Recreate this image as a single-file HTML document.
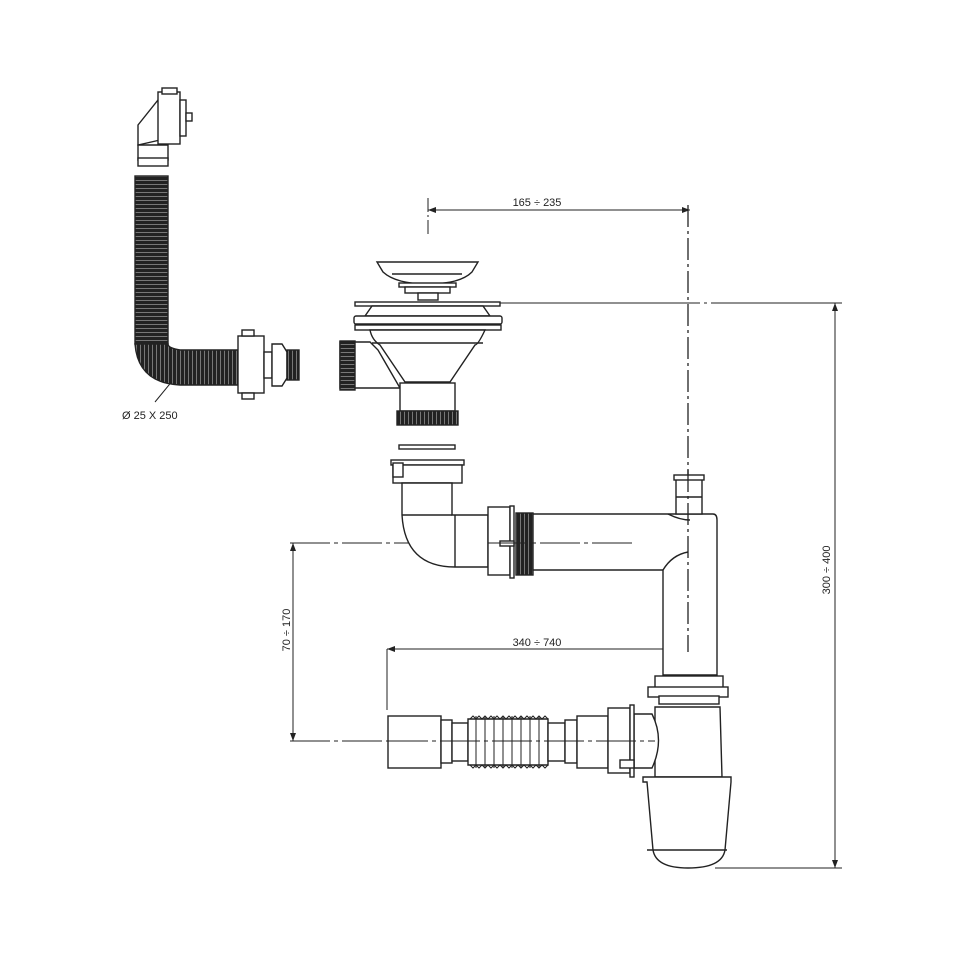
<!DOCTYPE html>
<html><head><style>html,body{margin:0;padding:0;background:#fff}svg{display:block}text{font-family:"Liberation Sans",sans-serif;font-size:11px;fill:#222}</style></head>
<body>
<svg width="960" height="960" viewBox="0 0 960 960" xmlns="http://www.w3.org/2000/svg">
<defs>
<pattern id="rib" width="4" height="4" patternUnits="userSpaceOnUse"><rect width="4" height="4" fill="#222"/><rect y="0" width="4" height="1" fill="#777"/></pattern>
<pattern id="ribv" width="4" height="4" patternUnits="userSpaceOnUse"><rect width="4" height="4" fill="#222"/><rect x="0" width="1" height="4" fill="#777"/></pattern>
<marker id="ar" markerWidth="8" markerHeight="6" refX="8" refY="3" orient="auto-start-reverse"><path d="M0,0 L8,3 L0,6z" fill="#222"/></marker>
</defs>
<g stroke="#222" stroke-width="1" fill="none">
<!-- dimension lines -->
<line x1="428" y1="198" x2="428" y2="236" stroke-dasharray="14,3,2,3"/>
<line x1="428" y1="210" x2="690" y2="210" marker-start="url(#ar)" marker-end="url(#ar)"/>
<line x1="688" y1="205" x2="688" y2="652" stroke-dasharray="22,4,3,4" stroke-width="1.3"/>
<line x1="500" y1="303" x2="842" y2="303" stroke-dasharray="200,4,3,4"/>
<line x1="715" y1="868" x2="842" y2="868"/>
<line x1="835" y1="303" x2="835" y2="868" marker-start="url(#ar)" marker-end="url(#ar)"/>
<line x1="290" y1="543" x2="632" y2="543" stroke-dasharray="40,4,4,4"/>
<line x1="290" y1="741" x2="655" y2="741" stroke-dasharray="40,4,4,4"/>
<line x1="293" y1="543" x2="293" y2="741" marker-start="url(#ar)" marker-end="url(#ar)"/>
<line x1="387" y1="649" x2="690" y2="649" marker-start="url(#ar)" marker-end="url(#ar)"/>
<line x1="387" y1="649" x2="387" y2="710"/>
<line x1="155" y1="402" x2="178" y2="374"/>
</g>
<text x="537" y="206" text-anchor="middle">165 ÷ 235</text>
<text x="537" y="646" text-anchor="middle">340 ÷ 740</text>
<text x="122" y="419">Ø 25 X 250</text>
<text transform="translate(830,570) rotate(-90)" text-anchor="middle">300 ÷ 400</text>
<text transform="translate(290,630) rotate(-90)" text-anchor="middle">70 ÷ 170</text>

<g stroke="#222" stroke-width="1.4" fill="#fff">
<!-- left overflow fitting -->
<path d="M138,125 L158,100 L160,140 L138,145z"/>
<rect x="158" y="92" width="22" height="52"/>
<rect x="162" y="88" width="15" height="6"/>
<rect x="180" y="100" width="6" height="36"/>
<rect x="186" y="113" width="6" height="8"/>
<path d="M138,145 L168,145 L168,160 L138,160z"/>
<rect x="138" y="158" width="30" height="8"/>
<!-- hose -->
<rect x="135" y="176" width="33" height="168" fill="url(#rib)"/>
<path d="M135,344 Q138,383 180,385 L240,385 L240,350 L180,350 Q168,348 168,344z" fill="url(#ribv)"/>
<rect x="238" y="336" width="26" height="57"/>
<rect x="242" y="330" width="12" height="6"/><rect x="242" y="393" width="12" height="6"/>
<rect x="264" y="352" width="8" height="26"/>
<path d="M272,344 L282,344 L287,352 L287,378 L282,386 L272,386z"/>
<rect x="287" y="350" width="12" height="30" fill="url(#ribv)"/>

<!-- strainer basket -->
<path d="M377,262 L478,262 L472,272 Q460,284 428,284 Q396,284 383,272z"/>
<path d="M392,274 h70" fill="none"/>
<rect x="399" y="283" width="57" height="4"/><rect x="405" y="287" width="45" height="6"/>
<rect x="418" y="293" width="20" height="7"/>
<!-- sink flange body -->
<rect x="355" y="302" width="145" height="4"/>
<path d="M372,306 L483,306 L490,316 L365,316z"/>
<rect x="354" y="316" width="148" height="8" rx="2"/>
<rect x="355" y="325" width="146" height="5"/>
<path d="M370,330 L485,330 Q478,345 475,345 L450,382 L405,382 L380,345 Q372,340 370,330z"/>
<line x1="372" y1="343" x2="483" y2="343"/>
<path d="M340,342 L370,342 L378,350 L400,388 L340,388z"/>
<rect x="340" y="341" width="15" height="49" fill="url(#rib)"/>
<rect x="400" y="383" width="55" height="28"/>
<rect x="397" y="411" width="61" height="14" fill="url(#ribv)"/>
<rect x="399" y="445" width="56" height="4"/>

<!-- trap top elbow -->
<rect x="391" y="460" width="73" height="5"/>
<rect x="393" y="465" width="69" height="18"/>
<rect x="393" y="463" width="10" height="14"/>
<path d="M402,483 L452,483 L452,515 L488,515 L488,567 L455,567 Q405,567 402,515z"/>
<line x1="402" y1="515" x2="452" y2="515"/><line x1="455" y1="515" x2="455" y2="567"/>
<rect x="488" y="507" width="22" height="68"/>
<rect x="510" y="506" width="4" height="72"/>
<rect x="500" y="541" width="14" height="5"/>
<rect x="516" y="513" width="17" height="62" fill="url(#ribv)"/>
<path d="M533,514 L713,514 Q717,514 717,520 L717,675 L663,675 L663,570 L533,570z"/>
<path d="M668,514 Q680,520 690,520" fill="none"/><path d="M663,570 Q672,555 688,552" fill="none"/>
<rect x="676" y="478" width="26" height="36"/>
<rect x="674" y="475" width="30" height="5"/>
<line x1="676" y1="497" x2="702" y2="497"/>

<!-- bottle trap -->
<rect x="655" y="676" width="68" height="20"/>
<rect x="648" y="687" width="80" height="10"/>
<rect x="659" y="696" width="60" height="8"/>
<path d="M655,707 L720,707 L722,777 L655,777z"/>
<path d="M643,777 L731,777 L731,782 L725,850 Q722,868 688,868 Q656,868 653,850 L647,782 L643,782z"/>
<line x1="647" y1="850" x2="727" y2="850"/>
<!-- horizontal outlet -->
<rect x="388" y="716" width="53" height="52"/>
<rect x="441" y="720" width="11" height="43"/>
<rect x="452" y="723" width="16" height="38"/>
<path d="M468,719 L548,719 L548,765 L468,765z" fill="#fff"/>
<g fill="none" stroke-width="1">
<path d="M470,719 l3,-3 l3,3 l3,-3 l3,3 l3,-3 l3,3 l3,-3 l3,3 l3,-3 l3,3 l3,-3 l3,3 l3,-3 l3,3 l3,-3 l3,3 l3,-3 l3,3 l3,-3 l3,3 l3,-3 l3,3 l3,-3 l3,3 l3,-3 l3,3"/>
<path d="M470,765 l3,3 l3,-3 l3,3 l3,-3 l3,3 l3,-3 l3,3 l3,-3 l3,3 l3,-3 l3,3 l3,-3 l3,3 l3,-3 l3,3 l3,-3 l3,3 l3,-3 l3,3 l3,-3 l3,3 l3,-3 l3,3 l3,-3 l3,3 l3,-3"/>
<path d="M476,716v52M485,716v52M494,716v52M503,716v52M512,716v52M521,716v52M530,716v52M539,716v52"/>
</g>
<rect x="548" y="723" width="17" height="38"/>
<rect x="565" y="720" width="12" height="43"/>
<rect x="577" y="716" width="31" height="52"/>
<path d="M634,714 L652,714 Q665,740 652,768 L634,768z"/>
<rect x="608" y="708" width="22" height="65"/>
<rect x="630" y="705" width="4" height="72"/>
<rect x="620" y="760" width="14" height="8"/>
</g>
<g stroke="#222" stroke-width="1" fill="none">
<line x1="488" y1="543" x2="632" y2="543" stroke-dasharray="40,4,4,4"/>
<line x1="388" y1="741" x2="655" y2="741" stroke-dasharray="40,4,4,4"/>
<line x1="688" y1="470" x2="688" y2="652" stroke-dasharray="22,4,3,4" stroke-width="1.3"/>
</g>
</svg>
</body></html>
